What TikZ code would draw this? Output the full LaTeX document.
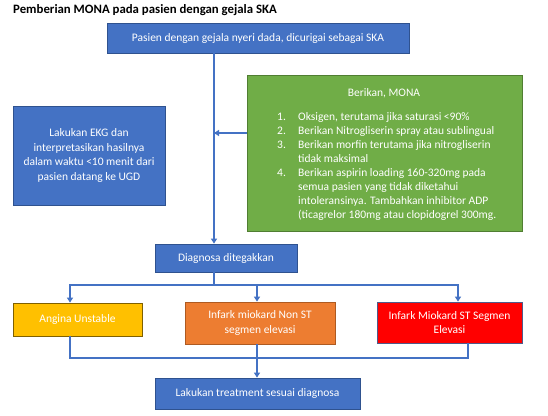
\documentclass[tikz,border=0pt]{standalone}
\usepackage{fontspec}
\setmainfont{Carlito}
\usetikzlibrary{arrows.meta}
\definecolor{bluef}{HTML}{4472C4}
\definecolor{blueb}{HTML}{2F528F}
\definecolor{greenf}{HTML}{70AD47}
\definecolor{greenb}{HTML}{507E32}
\definecolor{orangef}{HTML}{ED7D31}
\definecolor{orangeb}{HTML}{AE5A21}
\definecolor{yellowf}{HTML}{FFC000}
\definecolor{yellowb}{HTML}{7F6000}
\definecolor{redf}{HTML}{FF0000}
\definecolor{redb}{HTML}{4F5A8A}
\definecolor{linec}{HTML}{4472C4}
\tikzset{
  box/.style={draw=blueb, line width=0.8pt, text=white, align=center, inner sep=0pt,
    font=\fontsize{11.5}{14.5}\selectfont},
  conn/.style={draw=linec, line width=1.4pt},
  arr/.style={conn, -{Triangle[length=5pt,width=6pt]}},
  wtext/.style={text=white, inner sep=0pt, font=\fontsize{11.5}{14}\selectfont}
}
\begin{document}
\begin{tikzpicture}[x=1pt,y=-1pt]
\useasboundingbox (0,0) rectangle (548,415);
\fill[white] (0,0) rectangle (548,415);

\node[anchor=west, inner sep=0pt, font=\bfseries\fontsize{12.8}{15}\selectfont] (title) at (13,10) {Pemberian MONA pada pasien dengan gejala SKA};

\node[box, fill=bluef, minimum width=302pt, minimum height=30pt] (top) at (258,38) {Pasien dengan gejala nyeri dada, dicurigai sebagai SKA};

\node[box, draw=greenb, fill=greenf, minimum width=275pt, minimum height=156pt] (mona) at (384.5,153) {};
\node[wtext] (monahead) at (384,93) {Berikan, MONA};
\node[wtext, anchor=north west, align=left] (monalist) at (277,112.5) {%
\makebox[21pt][l]{1.}Oksigen, terutama jika saturasi <90\%\\
\makebox[21pt][l]{2.}Berikan Nitrogliserin spray atau sublingual\\
\makebox[21pt][l]{3.}Berikan morfin terutama jika nitrogliserin\\
\hspace*{21pt}tidak maksimal\\
\makebox[21pt][l]{4.}Berikan aspirin loading 160-320mg pada\\
\hspace*{21pt}semua pasien yang tidak diketahui\\
\hspace*{21pt}intoleransinya. Tambahkan inhibitor ADP\\
\hspace*{21pt}(ticagrelor 180mg atau clopidogrel 300mg.};

\node[box, fill=bluef, minimum width=152pt, minimum height=99pt] (ekg) at (89,155.5) {Lakukan EKG dan\\interpretasikan hasilnya\\dalam waktu <10 menit dari\\pasien datang ke UGD};

\node[box, fill=bluef, minimum width=142pt, minimum height=28pt] (diag) at (226,258) {Diagnosa ditegakkan};

\node[box, draw=yellowb, fill=yellowf, minimum width=129pt, minimum height=33pt] (ua) at (77.5,319.5) {Angina Unstable};
\node[box, draw=orangeb, fill=orangef, minimum width=150pt, minimum height=42pt] (nst) at (260,323) {Infark miokard Non ST\\segmen elevasi};
\node[box, draw=redb, fill=redf, minimum width=145pt, minimum height=41pt] (st) at (449.5,322.5) {Infark Miokard ST Segmen\\Elevasi};

\node[box, fill=bluef, minimum width=205pt, minimum height=31pt] (fin) at (257.5,393.5) {Lakukan treatment sesuai diagnosa};

% connectors
\coordinate (sp) at (214,0);
\draw[arr] (top.south -| sp) -- (diag.north -| sp);
\coordinate (mj) at (214,133);
\draw[arr] (mona.west |- mj) -- (mj);
\coordinate (split) at (214,285);
\coordinate (ax) at (70,285);
\coordinate (nx) at (257,285);
\coordinate (sx) at (458,285);
\draw[conn] (diag.south -| split) -- (split);
\draw[arr] (split) -| (ua.north -| ax);
\draw[arr] (split) -| (st.north -| sx);
\draw[arr] (nx) -- (nst.north -| nx);
\coordinate (lj) at (70,358);
\coordinate (rj) at (468,358);
\draw[conn] (ua.south -| lj) -- (lj) -- (rj) -- (st.south -| rj);
\draw[arr] (nst.south -| nx) -- (fin.north -| nx);
\end{tikzpicture}
\end{document}
